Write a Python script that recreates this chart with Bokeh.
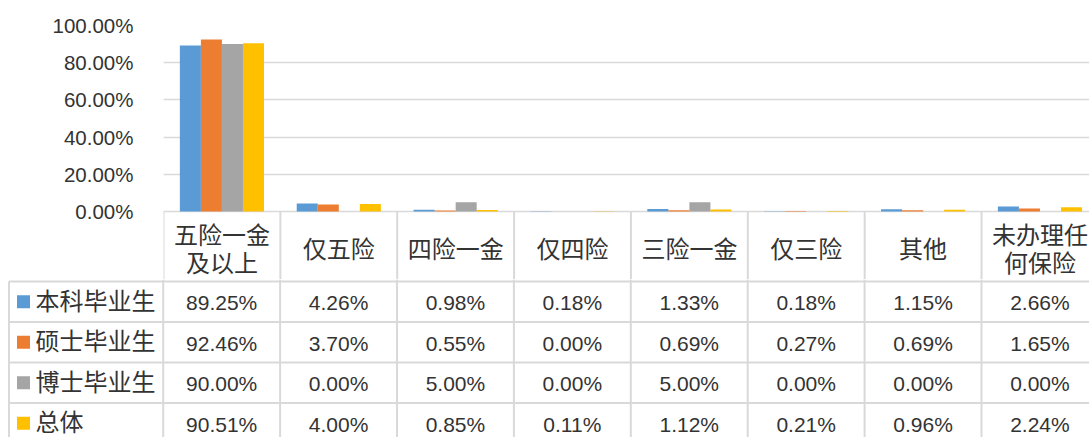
from bokeh.plotting import figure
from bokeh.models import Range1d, FixedTicker, PrintfTickFormatter
from bokeh.layouts import column
from bokeh.core.properties import value
from bokeh.embed import file_html
from bokeh.resources import INLINE

# ---------------- data ----------------
categories = ["五险一金\n及以上", "仅五险", "四险一金", "仅四险", "三险一金", "仅三险", "其他", "未办理任\n何保险"]
series_names = ["本科毕业生", "硕士毕业生", "博士毕业生", "总体"]
bachelor = [89.25, 4.26, 0.98, 0.18, 1.33, 0.18, 1.15, 2.66]
master = [92.46, 3.70, 0.55, 0.00, 0.69, 0.27, 0.69, 1.65]
doctor = [90.00, 0.00, 5.00, 0.00, 5.00, 0.00, 0.00, 0.00]
overall = [90.51, 4.00, 0.85, 0.11, 1.12, 0.21, 0.96, 2.24]
y_ticks = [0, 20, 40, 60, 80, 100]

series = [bachelor, master, doctor, overall]
colors = ["#5B9BD5", "#ED7D31", "#A5A5A5", "#FFC000"]

# ---------------- layout constants ----------------
W = 1089           # figure width (px)
H = 437
UNIT = 116.9       # px per category
LEFT = 162.7       # px from left edge to first category
TOP_BORDER = 25    # px above the 100% line
PLOT_H = 186       # px from 100% to 0%
HEADER_H = 70      # header row height (px)
ROW_H = 40.5       # data row height (px)
SPLIT = 68         # px below the 0 line where the second figure begins
GRID = "#D9D9D9"
TXT = "#333333"
NUM_FONT = value("Liberation Sans")
CJK_FONT = value("Noto Sans CJK SC")

x_end = (W - LEFT) / UNIT
n = len(categories)
ppx = 100.0 / PLOT_H            # percent per px in the bar figure
y_low = -SPLIT * ppx
TOP_H = TOP_BORDER + PLOT_H + SPLIT
BOT_H = H - TOP_H
vx = list(range(n + 1))

# ---------------- bar chart + header row ----------------
p1 = figure(width=W, height=TOP_H, output_backend="svg", toolbar_location=None,
            x_range=Range1d(0, x_end), y_range=Range1d(y_low, 100),
            x_axis_location=None, min_border_left=int(round(LEFT)), min_border_right=0,
            min_border_top=TOP_BORDER, min_border_bottom=0)
p1.outline_line_color = None
p1.xgrid.visible = False
p1.ygrid.grid_line_color = GRID
p1.ygrid.grid_line_width = 1.5
p1.yaxis.ticker = FixedTicker(ticks=y_ticks)
p1.yaxis.formatter = PrintfTickFormatter(format="%.2f%%")
p1.yaxis.axis_line_color = None
p1.yaxis.major_tick_line_color = None
p1.yaxis.minor_tick_line_color = None
p1.yaxis.major_label_text_font = "Liberation Sans"
p1.yaxis.major_label_text_font_size = "20.5px"
p1.yaxis.major_label_text_color = TXT
p1.yaxis.major_label_standoff = 24

bw = 0.18
offsets = [-1.5 * bw, -0.5 * bw, 0.5 * bw, 1.5 * bw]
for vals, c, off in zip(series, colors, offsets):
    xs = [i + 0.5 + off for i in range(n)]
    p1.vbar(x=xs, top=vals, bottom=0, width=bw, fill_color=c, line_color=None)

# header cell borders
p1.segment(x0=vx, y0=[0] * len(vx), x1=vx, y1=[y_low] * len(vx), line_color=GRID, line_width=2)

# header text (one glyph per line)
LINE_GAP = 28
hx, hyy, ht = [], [], []
for i, cat in enumerate(categories):
    lines = cat.split("\n")
    for k, line in enumerate(lines):
        hx.append(i + 0.5)
        hyy.append(-(HEADER_H / 2 + 1 + (k - (len(lines) - 1) / 2) * LINE_GAP) * ppx)
        ht.append(line)
p1.text(x=hx, y=hyy, text=ht, text_align="center", text_baseline="middle",
        text_font=CJK_FONT, text_font_size="24px", text_color=TXT)

# ---------------- data rows ----------------
p2 = figure(width=W, height=BOT_H, output_backend="svg", toolbar_location=None,
            x_range=Range1d(-LEFT / UNIT, x_end), y_range=Range1d(SPLIT + BOT_H, SPLIT),
            x_axis_type=None, y_axis_type=None,
            min_border_left=0, min_border_right=0, min_border_top=0, min_border_bottom=0)
p2.outline_line_color = None
p2.grid.visible = False
for p in (p1, p2):
    if "frame_align" in p.properties():
        p.frame_align = False

x_left = -(LEFT - 8.5) / UNIT
p2.segment(x0=vx, y0=[SPLIT] * len(vx), x1=vx, y1=[SPLIT + BOT_H] * len(vx), line_color=GRID, line_width=2)
p2.segment(x0=[x_left], y0=[HEADER_H], x1=[x_left], y1=[SPLIT + BOT_H], line_color=GRID, line_width=2)
hy = [HEADER_H + ROW_H * r for r in range(len(series))]
p2.segment(x0=[x_left] * len(hy), y0=hy, x1=[n] * len(hy), y1=hy, line_color=GRID, line_width=2)

for r, (name, vals, c) in enumerate(zip(series_names, series, colors)):
    yc = HEADER_H + ROW_H * (r + 0.5)
    p2.scatter(x=[-(LEFT - 23) / UNIT], y=[yc], marker="square", size=13,
               fill_color=c, line_color=None)
    p2.text(x=[-(LEFT - 35) / UNIT], y=[yc - 2.5], text=[name], text_align="left",
            text_baseline="middle", text_font=CJK_FONT, text_font_size="24px", text_color=TXT)
    p2.text(x=[i + 0.5 for i in range(n)], y=[yc + 1] * n, text=[f"{v:.2f}%" for v in vals],
            text_align="center", text_baseline="middle", text_font=NUM_FONT,
            text_font_size="21px", text_color=TXT)

layout = column(p1, p2, spacing=0)
open("out.html", "w").write(file_html(layout, INLINE))
